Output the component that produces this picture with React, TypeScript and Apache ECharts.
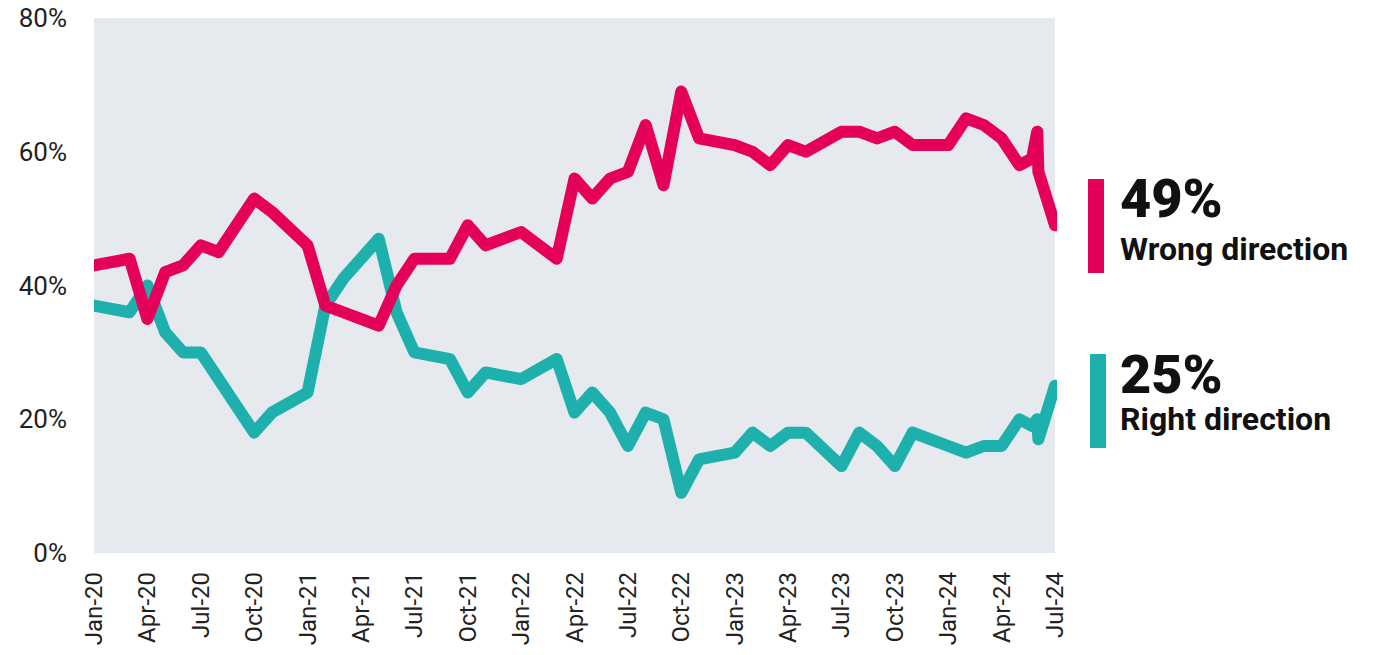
import React, { useEffect, useRef } from "react";
import * as echarts from "echarts";

const dates = [
  "2020-01-01", "2020-03-01", "2020-04-01", "2020-05-01", "2020-06-01", "2020-07-01", "2020-08-01",
  "2020-10-01", "2020-11-01", "2021-01-01", "2021-02-01", "2021-03-01", "2021-05-01", "2021-06-01",
  "2021-07-01", "2021-09-01", "2021-10-01", "2021-11-01", "2022-01-01", "2022-03-01", "2022-04-01",
  "2022-05-01", "2022-06-01", "2022-07-01", "2022-08-01", "2022-09-01", "2022-10-01", "2022-11-01",
  "2023-01-01", "2023-02-01", "2023-03-01", "2023-04-01", "2023-05-01", "2023-07-01", "2023-08-01",
  "2023-09-01", "2023-10-01", "2023-11-01", "2024-01-01", "2024-02-01", "2024-03-01", "2024-04-01",
  "2024-05-01", "2024-05-23", "2024-06-01", "2024-06-03", "2024-07-01",
];

const wrongDirection = [
  43, 44, 35, 42, 43, 46, 45,
  53, 51, 46, 37, 36, 34, 40,
  44, 44, 49, 46, 48, 44, 56,
  53, 56, 57, 64, 55, 69, 62,
  61, 60, 58, 61, 60, 63, 63,
  62, 63, 61, 61, 65, 64, 62,
  58, 59, 63, 57, 49,
];

const rightDirection = [
  37, 36, 40, 33, 30, 30, 26,
  18, 21, 24, 37, 41, 47, 36,
  30, 29, 24, 27, 26, 29, 21,
  24, 21, 16, 21, 20, 9, 14,
  15, 18, 16, 18, 18, 13, 18,
  16, 13, 18, 16, 15, 16, 16,
  20, 19, 20, 17, 25,
];

const monthNames = ["Jan", "Feb", "Mar", "Apr", "May", "Jun", "Jul", "Aug", "Sep", "Oct", "Nov", "Dec"];
const startYear = 2020;
const yTicks = [0, 20, 40, 60, 80];

const PINK = "#E5005A";
const TEAL = "#1EB0AC";

function monthIndex(d: string): number {
  const [y, m, day] = d.split("-").map(Number);
  const dim = new Date(y, m, 0).getDate();
  return (y - startYear) * 12 + (m - 1) + (day - 1) / dim;
}

export default function App() {
  const ref = useRef<HTMLDivElement>(null);
  useEffect(() => {
    if (!ref.current) return;
    const chart = echarts.init(ref.current, null, { renderer: "svg" });
    const xs = dates.map(monthIndex);
    const font = "Roboto";
    chart.setOption({
      animation: false,
      grid: {
        left: 94,
        top: 18,
        right: 325,
        bottom: 102,
        show: true,
        backgroundColor: "#E6E9EE",
        borderWidth: 0,
      },
      xAxis: {
        type: "value",
        min: 0,
        max: 54,
        interval: 3,
        axisLine: { show: false },
        axisTick: { show: false },
        splitLine: { show: false },
        axisLabel: {
          rotate: 90,
          margin: 19,
          fontFamily: font,
          fontSize: 24,
          color: "#222",
          formatter: (v: number) => {
            const m = Math.round(v);
            return `${monthNames[m % 12]}-${String((startYear + Math.floor(m / 12)) % 100).padStart(2, "0")}`;
          },
        },
      },
      yAxis: {
        type: "value",
        min: yTicks[0],
        max: yTicks[yTicks.length - 1],
        interval: 20,
        axisLine: { show: false },
        axisTick: { show: false },
        splitLine: { show: false },
        axisLabel: {
          margin: 27,
          fontFamily: font,
          fontSize: 26,
          color: "#222",
          formatter: "{value}%",
        },
      },
      series: [
        {
          name: "Wrong direction",
          type: "line",
          data: xs.map((x, i) => [x, wrongDirection[i]]),
          showSymbol: false,
          symbol: "none",
          lineStyle: { color: PINK, width: 12, join: "round", cap: "round" },
          clip: true,
          z: 3,
        },
        {
          name: "Right direction",
          type: "line",
          data: xs.map((x, i) => [x, rightDirection[i]]),
          showSymbol: false,
          symbol: "none",
          lineStyle: { color: TEAL, width: 12, join: "round", cap: "round" },
          clip: true,
          z: 2,
        },
      ],
      graphic: [
        { type: "rect", left: 74, top: 20, z: 100, shape: { width: 20, height: 530 }, style: { fill: "#fff" } },
        { type: "rect", left: 1057, top: 20, z: 100, shape: { width: 20, height: 530 }, style: { fill: "#fff" } },
        { type: "rect", left: 1088, top: 179, shape: { width: 16, height: 94 }, style: { fill: PINK } },
        {
          type: "text",
          left: 1120,
          top: 171,
          style: { text: `${wrongDirection[wrongDirection.length - 1]}%`, fill: "#111", font: `900 54px ${font}` },
        },
        {
          type: "text",
          left: 1120,
          top: 233,
          style: { text: "Wrong direction", fill: "#111", font: `bold 32px ${font}` },
        },
        { type: "rect", left: 1090, top: 354, shape: { width: 16, height: 94 }, style: { fill: TEAL } },
        {
          type: "text",
          left: 1120,
          top: 347,
          style: { text: `${rightDirection[rightDirection.length - 1]}%`, fill: "#111", font: `900 54px ${font}` },
        },
        {
          type: "text",
          left: 1120,
          top: 403,
          style: { text: "Right direction", fill: "#111", font: `bold 32px ${font}` },
        },
      ],
    });
    return () => chart.dispose();
  }, []);
  return (
    <div
      ref={ref}
      style={{ position: "absolute", left: 0, top: 0, width: 1380, height: 655 }}
    />
  );
}
